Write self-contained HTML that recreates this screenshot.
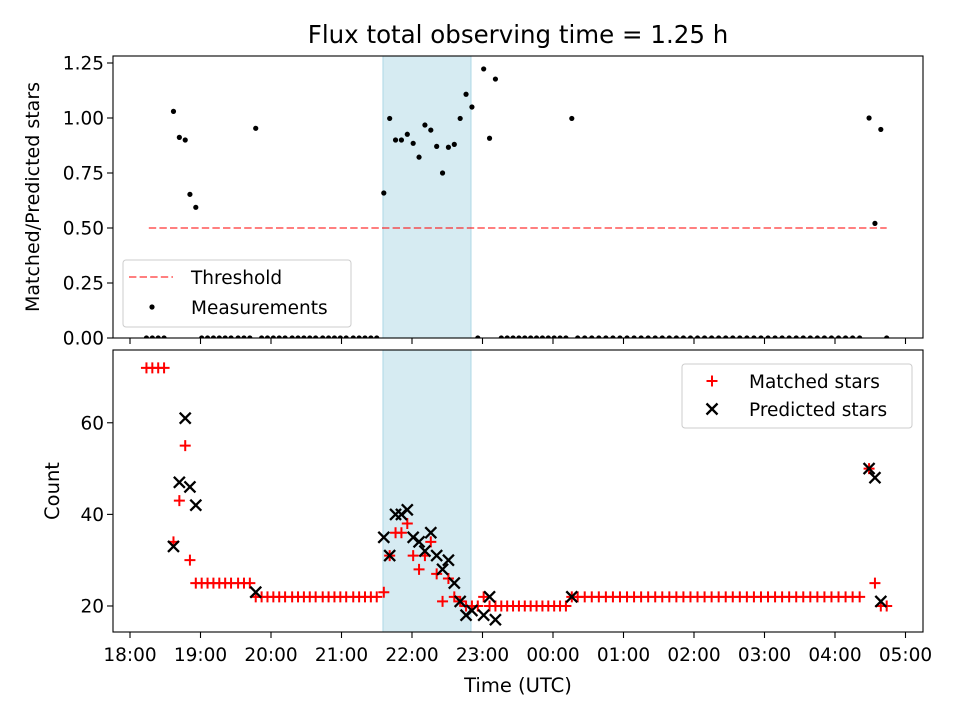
<!DOCTYPE html>
<html><head><meta charset="utf-8">
<style>
html,body{margin:0;padding:0;background:#fff;}
svg{display:block;font-family:"DejaVu Sans","Liberation Sans",sans-serif;}
</style></head>
<body>
<svg id="chart" width="960" height="720" viewBox="0 0 960 720" xmlns="http://www.w3.org/2000/svg">
<rect width="960" height="720" fill="#fff"/>
<text x="518" y="43" font-size="24.5" text-anchor="middle">Flux total observing time = 1.25 h</text>
<g id="top"></g>
<g id="bot"></g>
<text x="518" y="692" font-size="19.5" text-anchor="middle">Time (UTC)</text>
<text transform="translate(39,197) rotate(-90)" font-size="19" text-anchor="middle">Matched/Predicted stars</text>
<text transform="translate(59,491) rotate(-90)" font-size="19.5" text-anchor="middle">Count</text>
</svg>
<script>
// minutes after 18:00 UTC
const times = [14,19,24,29,37,42,47,51,56,61,66,71,76,81,86,92,97,102,107,
112,117,122,127,132,138,143,148,153,158,164,169,174,179,184,190,195,200,205,210,
216,221,226,231,236,241,246,251,256,261,266,271,276,281,286,291,296,301,306,311,
316,321,326,331,336,341,346,351,356,361,366,371,376,
381,387,393,399,405,411,417,423,429,435,441,447,453,459,465,471,477,483,489,495,501,507,513,519,525,531,537,543,549,555,561,567,573,579,585,591,597,603,609,615,621,
629,634,639,644];
const matched = [72,72,72,72,34,43,55,30,25,25,25,25,25,25,25,25,25,25,22,
22,22,22,22,22,22,22,22,22,22,22,22,22,22,22,22,22,22,22,22,
23,31,36,36,38,31,28,31,34,27,21,26,22,21,20,20,20,22,20,20,
20,20,20,20,20,20,20,20,20,20,20,20,22,
22,22,22,22,22,22,22,22,22,22,22,22,22,22,22,22,22,22,22,22,22,22,22,22,22,22,22,22,22,22,22,22,22,22,22,22,22,22,22,22,22,
50,25,20,20];
const predicted = [null,null,null,null,33,47,61,46,42,null,null,null,null,null,null,null,null,null,23,
null,null,null,null,null,null,null,null,null,null,null,null,null,null,null,null,null,null,null,null,
35,31,40,40,41,35,34,32,36,31,28,30,25,21,18,19,null,18,22,17,
null,null,null,null,null,null,null,null,null,null,null,null,22,
null,null,null,null,null,null,null,null,null,null,null,null,null,null,null,null,null,null,null,null,null,null,null,null,null,null,null,null,null,null,null,null,null,null,null,null,null,null,null,null,null,
50,48,21,null];
const ratio = [0,0,0,0,1.03,0.912,0.90,0.653,0.594,0,0,0,0,0,0,0,0,0,0.953,
0,0,0,0,0,0,0,0,0,0,0,0,0,0,0,0,0,0,0,0,
0.659,0.998,0.90,0.90,0.926,0.885,0.822,0.968,0.945,0.871,0.75,0.867,0.88,0.998,1.108,1.05,0,1.223,0.908,1.177,
0,0,0,0,0,0,0,0,0,0,0,0,0.998,
0,0,0,0,0,0,0,0,0,0,0,0,0,0,0,0,0,0,0,0,0,0,0,0,0,0,0,0,0,0,0,0,0,0,0,0,0,0,0,0,0,
1.0,0.521,0.948,0];
const threshold = 0.5;
const thresholdRange = [16, 644];
const shadeRange = [215.3, 290.2];
const xTickLabels = ["18:00","19:00","20:00","21:00","22:00","23:00","00:00","01:00","02:00","03:00","04:00","05:00"];
const topYTicks = [0,0.25,0.5,0.75,1.0,1.25];
const botYTicks = [20,40,60];

const NS="http://www.w3.org/2000/svg";
const X0=113,X1=923;
const XMIN=-14.47,XMAX=674.9;
const FS=18.5;
const xs=t=>X0+(t-XMIN)/(XMAX-XMIN)*(X1-X0);
const TOP={y0:56,y1:338,min:0,max:1.2818};
const BOT={y0:350,y1:632,min:14.32,max:75.89};
const ys=(ax,v)=>ax.y1-(v-ax.min)/(ax.max-ax.min)*(ax.y1-ax.y0);
function mk(parent,tag,attrs,text){const e=document.createElementNS(NS,tag);for(const k in attrs)e.setAttribute(k,attrs[k]);if(text!==undefined)e.textContent=text;parent.appendChild(e);return e;}

function frame(g,ax,name,ticks,fmt,labelsX){
  const sh=mk(g,'rect',{x:xs(shadeRange[0]),y:ax.y0,width:xs(shadeRange[1])-xs(shadeRange[0]),height:ax.y1-ax.y0,fill:'#add8e6','fill-opacity':0.5,stroke:'#add8e6','stroke-width':1});
  
  
  ticks.forEach(v=>{
    const y=ys(ax,v);
    const l=mk(g,'line',{x1:X0-6,x2:X0,y1:y,y2:y,stroke:'#000','stroke-width':1.1});
    
    
    const t=mk(g,'text',{x:X0-9,y:y+6.5,'font-size':FS,'text-anchor':'end'},fmt(v));
    
    
  });
  xTickLabels.forEach((lab,i)=>{
    const x=xs(i*60);
    const l=mk(g,'line',{x1:x,x2:x,y1:ax.y1,y2:ax.y1+6,stroke:'#000','stroke-width':1.1});
    
    
    if(labelsX){
      const t=mk(g,'text',{x:x,y:ax.y1+29,'font-size':FS,'text-anchor':'middle'},lab);
      
      
    }
  });
}
function border(g,ax,name){
  const r=mk(g,'rect',{x:X0,y:ax.y0,width:X1-X0,height:ax.y1-ax.y0,fill:'none',stroke:'#000','stroke-width':1.1});
  
  
}
function plus(g,x,y,s,name){
  const p=mk(g,'path',{d:`M${x-s} ${y}H${x+s}M${x} ${y-s}V${y+s}`,stroke:'#ff0000','stroke-width':2});
  
  
}
function cross(g,x,y,s,name){
  const p=mk(g,'path',{d:`M${x-s} ${y-s}L${x+s} ${y+s}M${x-s} ${y+s}L${x+s} ${y-s}`,stroke:'#000','stroke-width':2.3});
  
  
}

// top axes
const gt=document.getElementById('top');
frame(gt,TOP,'top',topYTicks,v=>v.toFixed(2),false);
const clipT=mk(gt,'clipPath',{id:'ct'});mk(clipT,'rect',{x:X0,y:TOP.y0,width:X1-X0,height:TOP.y1-TOP.y0});
const tdata=mk(gt,'g',{'clip-path':'url(#ct)'});
const th=mk(tdata,'line',{x1:xs(thresholdRange[0]),x2:xs(thresholdRange[1]),y1:ys(TOP,threshold),y2:ys(TOP,threshold),stroke:'#ff0000','stroke-opacity':0.5,'stroke-width':2,'stroke-dasharray':'7.4,3.2'});


times.forEach((t,i)=>{
  if(ratio[i]===null)return;
  const c=mk(tdata,'circle',{cx:xs(t),cy:ys(TOP,ratio[i]),r:2.6,fill:'#000'});
  
  
});
border(gt,TOP,'top');
// top legend
const lt=mk(gt,'g',{});


mk(lt,'rect',{x:123,y:260,width:228,height:67,rx:3,fill:'#fff','fill-opacity':0.8,stroke:'#ccc'});
const ld=mk(lt,'line',{x1:129,x2:173,y1:277,y2:277,stroke:'#ff0000','stroke-opacity':0.5,'stroke-width':2,'stroke-dasharray':'7.4,3.2'});


const lt1=mk(lt,'text',{x:191,y:284,'font-size':FS},'Threshold');


mk(lt,'circle',{cx:152,cy:307,r:2.6,fill:'#000'});
const lt2=mk(lt,'text',{x:191,y:314,'font-size':FS},'Measurements');



// bottom axes
const gb=document.getElementById('bot');
frame(gb,BOT,'bottom',botYTicks,v=>String(v),true);
const clipB=mk(gb,'clipPath',{id:'cb'});mk(clipB,'rect',{x:X0,y:BOT.y0,width:X1-X0,height:BOT.y1-BOT.y0});
const bdata=mk(gb,'g',{'clip-path':'url(#cb)'});
times.forEach((t,i)=>{ if(matched[i]!==null) plus(bdata,xs(t),ys(BOT,matched[i]),5.5,'matched-star-marker'); });
times.forEach((t,i)=>{ if(predicted[i]!==null) cross(bdata,xs(t),ys(BOT,predicted[i]),5.5,'predicted-star-marker'); });
border(gb,BOT,'bottom');
const lb=mk(gb,'g',{});


mk(lb,'rect',{x:682,y:364,width:230,height:64,rx:3,fill:'#fff','fill-opacity':0.8,stroke:'#ccc'});
plus(lb,712,381,5.5,'legend-matched-swatch');
const lb1=mk(lb,'text',{x:749,y:388,'font-size':FS},'Matched stars');


cross(lb,712,409,5.5,'legend-predicted-swatch');
const lb2=mk(lb,'text',{x:749,y:416,'font-size':FS},'Predicted stars');


</script>
</body></html>
